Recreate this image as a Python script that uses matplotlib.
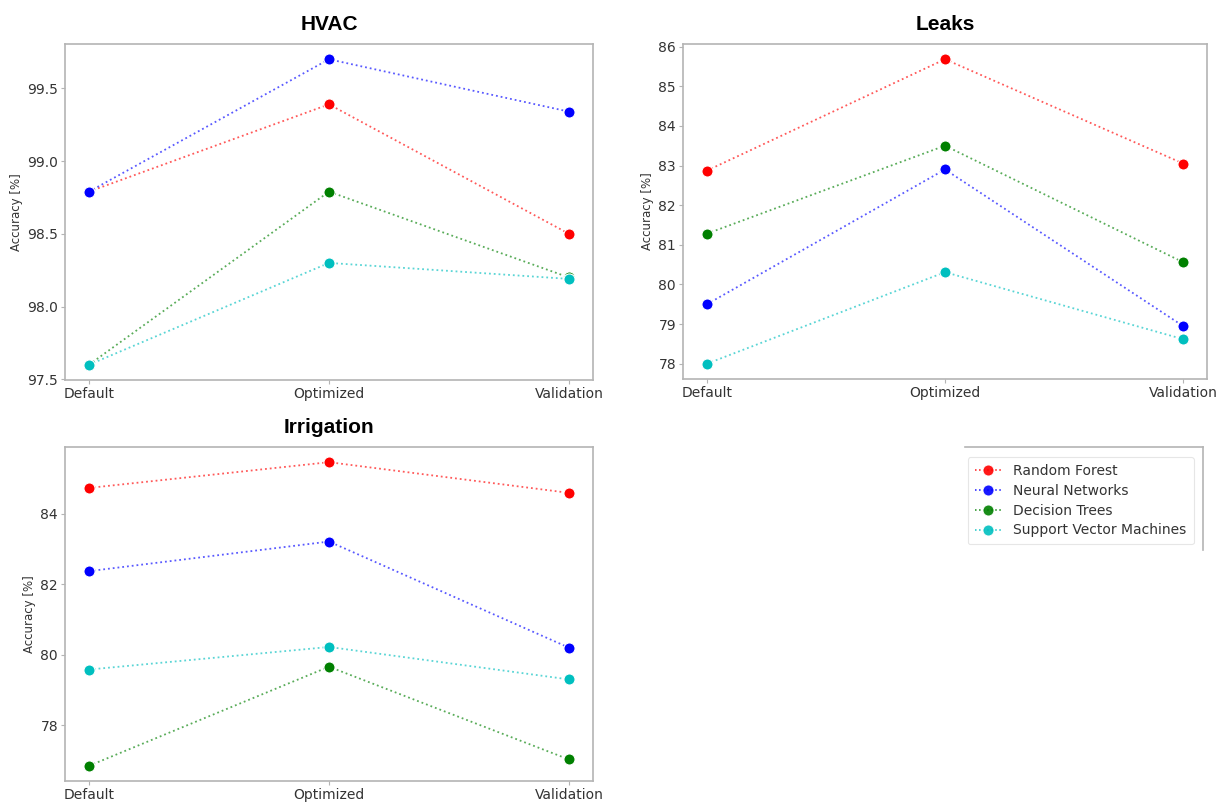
import matplotlib
matplotlib.use("Agg")
import matplotlib.pyplot as plt
from matplotlib.lines import Line2D

stages = ["Default", "Optimized", "Validation"]
models = ["Random Forest", "Neural Networks", "Decision Trees", "Support Vector Machines"]
model_colors = ["#ff0000", "#0000ff", "#008000", "#00bfbf"]

hvac_rf = [98.79, 99.39, 98.50]
hvac_nn = [98.79, 99.70, 99.34]
hvac_dt = [97.60, 98.79, 98.20]
hvac_svm = [97.60, 98.30, 98.19]

leaks_rf = [82.87, 85.68, 83.05]
leaks_nn = [79.50, 82.90, 78.95]
leaks_dt = [81.28, 83.50, 80.56]
leaks_svm = [78.00, 80.31, 78.62]

irrigation_rf = [84.73, 85.46, 84.59]
irrigation_nn = [82.37, 83.21, 80.20]
irrigation_dt = [76.85, 79.66, 77.03]
irrigation_svm = [79.58, 80.22, 79.30]

panels = [
    ("HVAC", [hvac_rf, hvac_nn, hvac_dt, hvac_svm]),
    ("Leaks", [leaks_rf, leaks_nn, leaks_dt, leaks_svm]),
    ("Irrigation", [irrigation_rf, irrigation_nn, irrigation_dt, irrigation_svm]),
]

W, H = 1219, 802
fig = plt.figure(figsize=(W / 100, H / 100), dpi=100)


def rect(x0, y0, x1, y1):
    return [x0 / W, 1 - y1 / H, (x1 - x0) / W, (y1 - y0) / H]


positions = [
    rect(65, 44, 593, 380),
    rect(683, 44, 1207, 379),
    rect(65, 447, 593, 781),
]

spine_color = "#b4b4b4"
text_color = "#333333"

for (title, series), pos in zip(panels, positions):
    ax = fig.add_axes(pos)
    for vals, name, col in zip(series, models, model_colors):
        ax.plot(stages, vals, linestyle=":", linewidth=1.3, color=col, alpha=0.65)
        ax.plot(stages, vals, linestyle="none", marker="o", markersize=8,
                markerfacecolor=col, markeredgecolor="white",
                markeredgewidth=0.8, label=name)
    ax.set_title(title, fontsize=15, fontweight="bold", family="Liberation Sans",
                 pad=10)
    ax.set_ylabel("Accuracy [%]", fontsize=8.5, color=text_color, labelpad=3)
    for sp in ax.spines.values():
        sp.set_color(spine_color)
        sp.set_linewidth(1.2)
    ax.tick_params(axis="both", colors=spine_color, labelcolor=text_color,
                   labelsize=10, length=3, width=0.8, pad=2)

# Legend entries show the dotted line together with the marker
legend_handles = [
    Line2D([0], [0], linestyle=":", linewidth=1.1, color=col, alpha=0.9,
           marker="o", markersize=8, markerfacecolor=col,
           markeredgecolor="white", markeredgewidth=0.8)
    for col in model_colors
]

# Fourth panel only carries the shared legend
ax4 = fig.add_axes(rect(965, 447, 1203, 550))
ax4.set_xticks([])
ax4.set_yticks([])
ax4.spines["left"].set_visible(False)
ax4.spines["bottom"].set_visible(False)
for side in ("top", "right"):
    ax4.spines[side].set_color(spine_color)
    ax4.spines[side].set_linewidth(1.2)
leg = ax4.legend(handles=legend_handles, labels=models, loc="upper right",
                 fontsize=10, frameon=True, borderpad=0.5,
                 handlelength=2.0, labelspacing=0.42,
                 bbox_to_anchor=(0.99, 0.97))
leg.get_frame().set_edgecolor("#e0e0e0")
leg.get_frame().set_linewidth(0.8)
for t in leg.get_texts():
    t.set_color(text_color)

fig.savefig("out.png", dpi=100)
